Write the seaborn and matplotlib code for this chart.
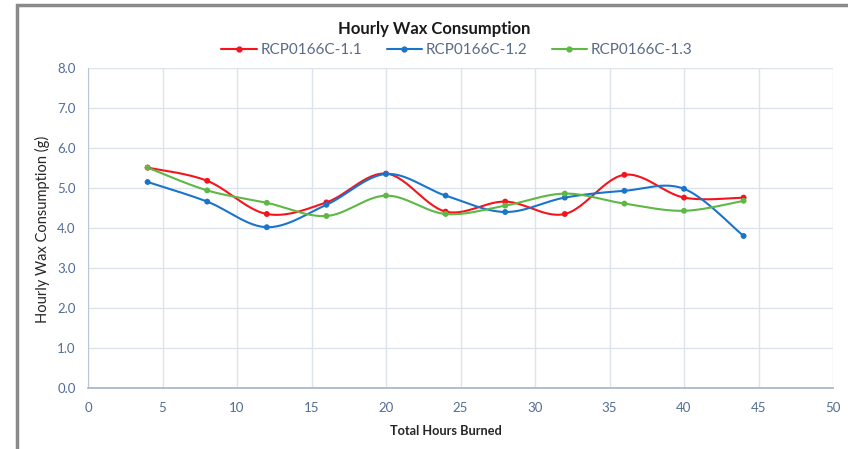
import numpy as np
import pandas as pd
import matplotlib
matplotlib.use("Agg")
import matplotlib.pyplot as plt
import seaborn as sns
from matplotlib.lines import Line2D
from matplotlib.patches import Rectangle

# values
hours = [4, 8, 12, 16, 20, 24, 28, 32, 36, 40, 44]
rcp_11 = [5.51, 5.18, 4.35, 4.64, 5.36, 4.41, 4.66, 4.35, 5.33, 4.76, 4.76]
rcp_12 = [5.15, 4.66, 4.02, 4.58, 5.35, 4.81, 4.40, 4.76, 4.93, 4.98, 3.80]
rcp_13 = [5.51, 4.94, 4.63, 4.30, 4.81, 4.35, 4.56, 4.86, 4.61, 4.43, 4.68]
series_names = ["RCP0166C-1.1", "RCP0166C-1.2", "RCP0166C-1.3"]
series_colors = ["#f5141c", "#1b74cc", "#5db845"]
x_ticks = list(range(0, 51, 5))
y_ticks = [0, 1, 2, 3, 4, 5, 6, 7, 8]


def smooth(x, y, n=30):
    # Catmull-Rom style bezier, like the spreadsheet "smoothed line"
    p = np.column_stack([x, y]).astype(float)
    p = np.vstack([p[0], p, p[-1]])
    t = np.linspace(0, 1, n)[:, None]
    out = []
    for i in range(1, len(p) - 2):
        a, d = p[i], p[i + 1]
        b = a + (p[i + 1] - p[i - 1]) / 6
        c = d - (p[i + 2] - p[i]) / 6
        seg = (1 - t) ** 3 * a + 3 * (1 - t) ** 2 * t * b + 3 * (1 - t) * t ** 2 * c + t ** 3 * d
        out.append(seg if i == 1 else seg[1:])
    out = np.vstack(out)
    return out[:, 0], out[:, 1]


points = pd.DataFrame({
    "hours": hours * 3,
    "wax": rcp_11 + rcp_12 + rcp_13,
    "series": [s for s in series_names for _ in hours],
})
curves = []
for name, vals in zip(series_names, [rcp_11, rcp_12, rcp_13]):
    sx, sy = smooth(hours, vals)
    curves.append(pd.DataFrame({"hours": sx, "wax": sy, "series": name}))
curves = pd.concat(curves, ignore_index=True)

sns.set_style("white")
plt.rcParams["font.family"] = ["Lato", "DejaVu Sans"]

fig = plt.figure(figsize=(8.48, 4.49), dpi=100)
ax = fig.add_axes([88 / 848, 1 - 388 / 449, (833 - 88) / 848, (388 - 68) / 449])

palette = dict(zip(series_names, series_colors))
sns.lineplot(data=curves, x="hours", y="wax", hue="series", palette=palette,
             sort=False, estimator=None, linewidth=1.5, legend=False, ax=ax)
sns.scatterplot(data=points, x="hours", y="wax", hue="series", palette=palette,
                s=18, linewidth=0, legend=False, ax=ax, zorder=3)

ax.set_xlim(0, 50)
ax.set_ylim(0, 8)
ax.set_xticks(x_ticks)
ax.set_yticks(y_ticks)
ax.set_yticklabels([f"{v:.1f}" for v in y_ticks])
ax.grid(True, color="#dde3ec", linewidth=1.0)
ax.set_axisbelow(True)
for side in ["top", "right"]:
    ax.spines[side].set_visible(False)
ax.spines["left"].set_color("#b9c6da")
ax.spines["bottom"].set_color("#a9b8d0")
ax.spines["bottom"].set_linewidth(1.3)
ax.tick_params(axis="both", length=0, labelsize=9.5, labelcolor="#536d94")
ax.tick_params(axis="y", pad=9)
ax.tick_params(axis="x", pad=10)
ax.set_xlabel("")
ax.set_ylabel("")

fig.text(0.512, 1 - 29 / 449, "Hourly Wax Consumption", ha="center", va="center",
         fontsize=12, fontweight="bold", color="#1a1a1a")
fig.text(42 / 848, 1 - 229 / 449, "Hourly Wax Consumption (g)", rotation=90,
         ha="center", va="center", fontsize=10.5, color="#262626")
fig.text(446 / 848, 1 - 431 / 449, "Total Hours Burned", ha="center", va="center",
         fontsize=9.2, fontweight="bold", color="#262626")

handles = [Line2D([0], [0], color=c, lw=1.5, marker="o", markersize=3.5) for c in series_colors]
fig.legend(handles, series_names, loc="center", bbox_to_anchor=(457 / 848, 1 - 50 / 449),
           ncol=3, frameon=False, fontsize=11, handlelength=2.3, handletextpad=0.25,
           columnspacing=1.6, labelcolor="#5b6a86")

# outer chart frame (only top and left edges visible in the crop)
fig.patches.append(Rectangle((17 / 848, -0.2), 1.2, 1.2 - 5 / 449,
                             transform=fig.transFigure, fill=False,
                             edgecolor="#8a8a8a", linewidth=2.5))

fig.savefig("out.png", dpi=100)
